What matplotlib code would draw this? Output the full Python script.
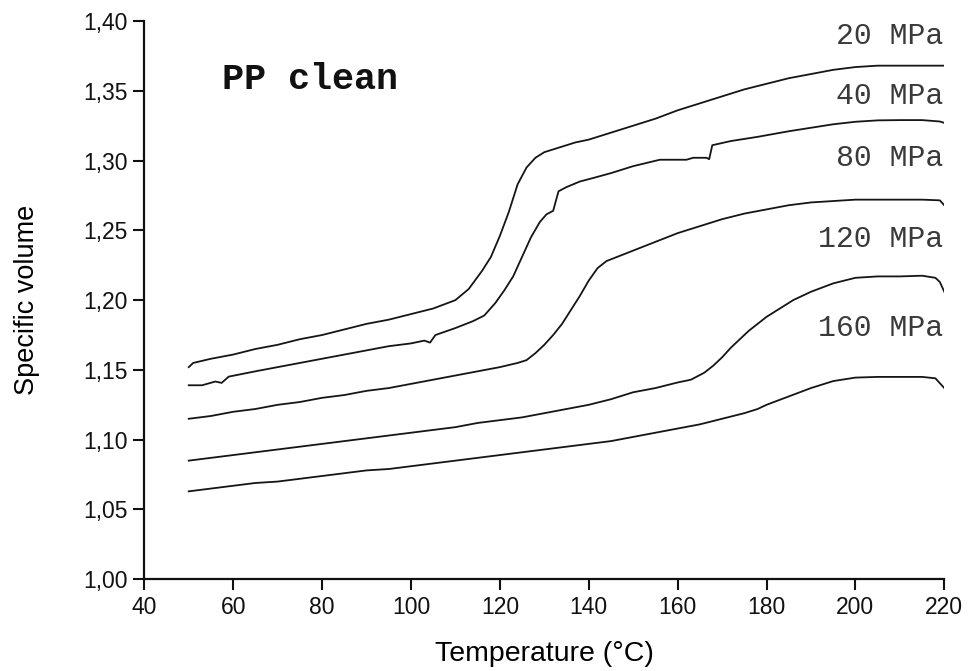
import matplotlib
matplotlib.use("Agg")
import matplotlib.pyplot as plt
from matplotlib.ticker import FuncFormatter, MultipleLocator

# ---- data ----
t20 = [50, 51, 55, 60, 65, 70, 75, 80, 85, 90, 95, 100, 105, 110, 113, 116, 118, 120, 122, 124,
       126, 128, 130, 133, 137, 140, 145, 150, 155, 160, 165, 170, 175, 180, 185, 190, 195, 200,
       205, 210, 215, 220]
v20 = [1.152, 1.155, 1.158, 1.161, 1.165, 1.168, 1.172, 1.175, 1.179, 1.183, 1.186, 1.190, 1.194,
       1.200, 1.208, 1.221, 1.231, 1.246, 1.263, 1.283, 1.295, 1.302, 1.306, 1.309, 1.313, 1.315,
       1.320, 1.325, 1.330, 1.336, 1.341, 1.346, 1.351, 1.355, 1.359, 1.362, 1.365, 1.367, 1.368,
       1.368, 1.368, 1.368]

t40 = [50, 53, 56, 57.4, 59, 65, 70, 75, 80, 85, 90, 95, 100, 103, 104.3, 105.5, 110, 114, 116.5,
       119, 121, 123, 125, 127, 129, 130.5, 132, 133.2, 135, 138, 141, 145, 150, 156, 162, 163.5,
       166.5, 167.1, 167.8, 172, 178, 185, 190, 195, 200, 205, 210, 215, 219, 220]
v40 = [1.139, 1.139, 1.1417, 1.1407, 1.1452, 1.149, 1.152, 1.155, 1.158, 1.161, 1.164, 1.167,
       1.169, 1.171, 1.1696, 1.175, 1.180, 1.185, 1.189, 1.198, 1.207, 1.217, 1.231, 1.245, 1.256,
       1.2615, 1.264, 1.278, 1.281, 1.285, 1.2875, 1.291, 1.296, 1.3006, 1.3006, 1.302, 1.302,
       1.301, 1.311, 1.314, 1.317, 1.321, 1.3235, 1.326, 1.3278, 1.3288, 1.329, 1.329, 1.328, 1.327]

t80 = [50, 55, 60, 65, 70, 75, 80, 85, 90, 95, 100, 105, 110, 115, 120, 124, 126, 128, 130, 132,
       134, 136, 138, 140, 142, 144, 148, 152, 156, 160, 165, 170, 175, 180, 185, 190, 195, 200,
       205, 210, 215, 219, 220]
v80 = [1.115, 1.117, 1.120, 1.122, 1.125, 1.127, 1.130, 1.132, 1.135, 1.137, 1.140, 1.143, 1.146,
       1.149, 1.152, 1.155, 1.157, 1.162, 1.168, 1.175, 1.183, 1.193, 1.203, 1.214, 1.223, 1.228,
       1.233, 1.238, 1.243, 1.248, 1.253, 1.258, 1.262, 1.265, 1.268, 1.270, 1.271, 1.272, 1.272,
       1.272, 1.272, 1.2715, 1.268]

t120 = [50, 55, 60, 65, 70, 75, 80, 85, 90, 95, 100, 105, 110, 115, 120, 125, 130, 135, 140, 145,
        150, 155, 160, 163, 166, 168, 170, 172, 174, 176, 178, 180, 183, 186, 190, 195, 200, 205,
        210, 215, 218, 219, 220]
v120 = [1.085, 1.087, 1.089, 1.091, 1.093, 1.095, 1.097, 1.099, 1.101, 1.103, 1.105, 1.107, 1.109,
        1.112, 1.114, 1.116, 1.119, 1.122, 1.125, 1.129, 1.134, 1.137, 1.141, 1.143, 1.148, 1.153,
        1.159, 1.166, 1.172, 1.178, 1.183, 1.188, 1.194, 1.200, 1.206, 1.212, 1.216, 1.217, 1.217,
        1.2175, 1.216, 1.213, 1.206]

t160 = [50, 55, 60, 65, 70, 75, 80, 85, 90, 95, 100, 105, 110, 115, 120, 125, 130, 135, 140, 145,
        150, 155, 160, 165, 170, 175, 178, 180, 185, 190, 195, 200, 205, 210, 215, 218, 220]
v160 = [1.063, 1.065, 1.067, 1.069, 1.070, 1.072, 1.074, 1.076, 1.078, 1.079, 1.081, 1.083, 1.085,
        1.087, 1.089, 1.091, 1.093, 1.095, 1.097, 1.099, 1.102, 1.105, 1.108, 1.111, 1.115, 1.119,
        1.122, 1.125, 1.131, 1.137, 1.142, 1.1445, 1.145, 1.145, 1.145, 1.144, 1.137]

labels = ["20 MPa", "40 MPa", "80 MPa", "120 MPa", "160 MPa"]
label_y = [1.389, 1.346, 1.302, 1.244, 1.180]
title_text = "PP clean"

series = [(t20, v20), (t40, v40), (t80, v80), (t120, v120), (t160, v160)]

fig = plt.figure(figsize=(9.69, 6.71), dpi=100)
ax = fig.add_axes([0.1489, 0.1367, 0.8256, 0.832])

for t, v in series:
    ax.plot(t, v, color="#151515", lw=1.3)

for lab, y in zip(labels, label_y):
    ax.text(219.8, y, lab, ha="right", va="center", fontsize=21.5,
            family="Liberation Mono", color="#3a3a3a")

ax.text(57.5, 1.358, title_text, ha="left", va="center", fontsize=26.5,
        family="Liberation Mono", fontweight="bold", color="#111111")

ax.set_xlim(40, 220)
ax.set_ylim(1.00, 1.40)
ax.xaxis.set_major_locator(MultipleLocator(20))
ax.yaxis.set_major_locator(MultipleLocator(0.05))
ax.yaxis.set_major_formatter(FuncFormatter(lambda v, p: f"{v:.2f}".replace(".", ",")))

for s in ["top", "right"]:
    ax.spines[s].set_visible(False)
for s in ["left", "bottom"]:
    ax.spines[s].set_linewidth(1.6)
    ax.spines[s].set_color("#111111")

ax.tick_params(direction="out", length=8, width=1.5, labelsize=16.5, colors="#111111",
               pad=4)
for lbl in ax.get_xticklabels() + ax.get_yticklabels():
    lbl.set_family("Liberation Sans")

ax.set_xlabel("Temperature (°C)", fontsize=20.5, family="Liberation Sans", labelpad=16)
ax.set_ylabel("Specific volume", fontsize=19.5, family="Liberation Sans", labelpad=31)

fig.savefig("out.png", dpi=100)
